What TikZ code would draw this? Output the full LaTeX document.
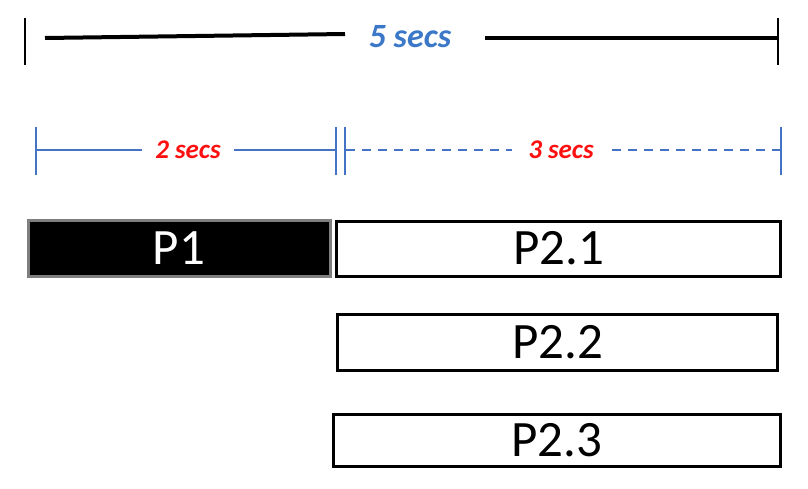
\documentclass[tikz,border=0pt]{standalone}
\usepackage{fontspec}
\setmainfont{Carlito}
\newfontfamily\labfont[BoldItalicFont={Carlito Bold Italic}]{Carlito}
\definecolor{oblue}{HTML}{4472C4}
\definecolor{tblue}{HTML}{3C78C8}
\definecolor{ored}{HTML}{FF1010}
\definecolor{pgray}{HTML}{7F7F7F}
\begin{document}
\begin{tikzpicture}[x=1pt,y=-1pt,
  pbox/.style={draw=black,line width=3pt,minimum height=54pt,inner sep=0pt,font=\fontsize{51}{51}\selectfont},
  bigtick/.style={draw=black,line width=1.8pt},
  bigline/.style={draw=black,line width=4pt},
  btick/.style={draw=oblue,line width=2pt},
  bline/.style={draw=oblue,line width=1.8pt},
  dline/.style={draw=oblue,line width=1.8pt,dash pattern=on 9pt off 7pt},
  toplabel/.style={text=tblue,font=\labfont\fontsize{34}{34}\selectfont\bfseries\itshape,inner sep=0pt},
  sublabel/.style={text=ored,font=\labfont\fontsize{27}{27}\selectfont\bfseries\itshape,inner sep=0pt}]
\useasboundingbox (0,0) rectangle (808,488);
% top dimension
\coordinate (tl1) at (25,18); \coordinate (tl2) at (25,65);
\coordinate (tr1) at (778,18); \coordinate (tr2) at (778,65);
\coordinate (ta) at (45,38); \coordinate (tb) at (345,34);
\coordinate (tc) at (485,38); \coordinate (td) at (778,38);
\draw[bigtick] (tl1) -- (tl2);
\draw[bigtick] (tr1) -- (tr2);
\draw[bigline] (ta) -- (tb);
\draw[bigline] (tc) -- (td);
\node[toplabel] (five) at (410,37) {5 secs};
% second row
\coordinate (s1a) at (36,127); \coordinate (s1b) at (36,175);
\coordinate (s2a) at (336,127); \coordinate (s2b) at (336,175);
\coordinate (s3a) at (345,127); \coordinate (s3b) at (345,175);
\coordinate (s4a) at (781,127); \coordinate (s4b) at (781,175);
\draw[btick] (s1a) -- (s1b);
\draw[btick] (s2a) -- (s2b);
\draw[btick] (s3a) -- (s3b);
\draw[btick] (s4a) -- (s4b);
\coordinate (la) at (37,150); \coordinate (lb) at (142,150);
\coordinate (lc) at (234,150); \coordinate (ld) at (335,150);
\draw[bline] (la) -- (lb);
\draw[bline] (lc) -- (ld);
\node[sublabel] (two) at (188,150) {2 secs};
\coordinate (da) at (346,150); \coordinate (db) at (512,150);
\coordinate (dc) at (612,150); \coordinate (dd) at (781,150);
\draw[dline] (da) -- (db);
\draw[dline] (dc) -- (dd);
\node[sublabel] (three) at (561,150) {3 secs};
% boxes
\node[pbox,draw=pgray,fill=black,text=white,minimum width=302pt,minimum height=56pt] (p1) at (179,248.5) {P1};
\node[pbox,minimum width=444pt,minimum height=55pt] (p21) at (558.5,248.5) {P2.1};
\node[pbox,minimum width=440pt,minimum height=56pt] (p22) at (557.5,342.5) {P2.2};
\node[pbox,minimum width=447pt,minimum height=52pt] (p23) at (557,440.5) {P2.3};
\end{tikzpicture}
\end{document}
